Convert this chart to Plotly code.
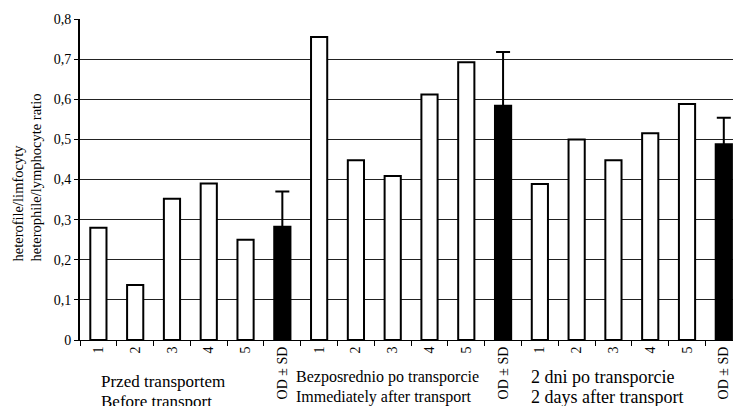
import plotly.graph_objects as go

# Heterophile/lymphocyte ratio of individual animals and group mean (OD ± SD)
categories = [f"g{g}-{i}" for g in (1, 2, 3) for i in ("1", "2", "3", "4", "5", "m")]
tick_labels = ["1", "2", "3", "4", "5", "OD ± SD"] * 3

individual_cats = [c for c in categories if not c.endswith("-m")]
individual_vals = [0.28, 0.137, 0.352, 0.39, 0.25,
                   0.755, 0.448, 0.409, 0.612, 0.692,
                   0.389, 0.50, 0.448, 0.515, 0.588]

mean_cats = [c for c in categories if c.endswith("-m")]
mean_vals = [0.282, 0.584, 0.488]
sd_vals = [0.088, 0.134, 0.066]

group_pl = ["Przed transportem", "Bezposrednio po transporcie", "2 dni po transporcie"]
group_en = ["Before transport", "Immediately after transport", "2 days after transport"]

y_ticks = [0, 0.1, 0.2, 0.3, 0.4, 0.5, 0.6, 0.7, 0.8]
y_tick_text = ["0", "0,1", "0,2", "0,3", "0,4", "0,5", "0,6", "0,7", "0,8"]

FONT = "Liberation Serif, Times New Roman, serif"

fig = go.Figure()
fig.add_trace(go.Bar(
    x=individual_cats, y=individual_vals, width=0.44,
    marker=dict(color="white", line=dict(color="black", width=2)),
    showlegend=False,
))
fig.add_trace(go.Bar(
    x=mean_cats, y=mean_vals, width=0.44,
    marker=dict(color="black", line=dict(color="black", width=2)),
    error_y=dict(type="data", array=sd_vals, color="black", thickness=2, width=7),
    showlegend=False,
))

W, H = 733, 406
L, R, T, B = 80, 0, 19, 66
plot_w, plot_h = W - L - R, H - T - B

def px_x(px):
    return (px - L) / plot_w

def px_y(py):
    return (H - B - py) / plot_h

fig.update_layout(
    width=W, height=H,
    margin=dict(l=L, r=R, t=T, b=B),
    paper_bgcolor="white", plot_bgcolor="white",
    barmode="overlay",
    font=dict(family=FONT, size=14, color="black"),
    xaxis=dict(
        type="category", categoryorder="array", categoryarray=categories,
        tickmode="array", tickvals=categories, ticktext=tick_labels,
        tickangle=-90, tickson="boundaries", ticks="outside", ticklen=5,
        tickcolor="black", tickwidth=1,
        range=[-0.5, 17.25],
        showline=True, linecolor="black", linewidth=1,
        showgrid=False, tickfont=dict(size=14),
    ),
    yaxis=dict(
        range=[0, 0.8], tickmode="array", tickvals=y_ticks, ticktext=y_tick_text,
        ticks="outside", ticklen=4, tickcolor="black",
        showline=True, linecolor="black", linewidth=2,
        showgrid=True, gridcolor="#222222", gridwidth=1,
        zeroline=False, tickfont=dict(size=14),
    ),
)

# Axis title: two left-aligned lines, rotated
fig.add_annotation(
    text="heterofile/limfocyty<br>heterophile/lymphocyte ratio",
    xref="paper", yref="paper", x=px_x(27), y=px_y(177.5),
    xanchor="center", yanchor="middle", textangle=-90, align="left",
    showarrow=False, font=dict(size=14.5),
)

# Group captions under the category labels: (left x, line 1 y, line 2 y, font size)
caption_pos = [(99, 381.7, 401.7, 17), (294, 377, 397, 16), (529, 377, 397, 18)]
for (x0, y1, y2, fs), pl, en in zip(caption_pos, group_pl, group_en):
    for yy, txt in ((y1, pl), (y2, en)):
        fig.add_annotation(
            text=txt, xref="paper", yref="paper", x=px_x(x0), y=px_y(yy),
            xanchor="left", yanchor="middle", showarrow=False,
            font=dict(size=fs),
        )

fig.write_html("out.html")
